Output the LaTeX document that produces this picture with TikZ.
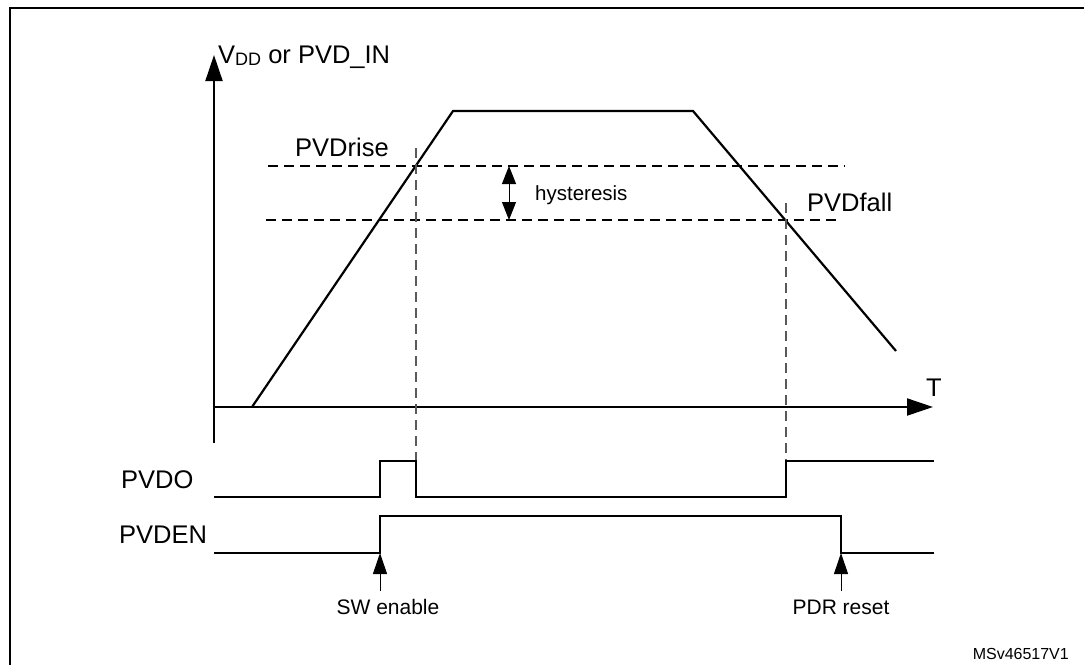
\documentclass[tikz,border=0pt]{standalone}
\usepackage{fontspec}
\setmainfont{Liberation Sans}
\usetikzlibrary{arrows.meta}
\begin{document}
\begin{tikzpicture}[x=1pt,y=-1pt,
  big/.style={inner sep=0pt, font=\fontsize{25.5}{30}\selectfont},
  mid/.style={inner sep=0pt, font=\fontsize{21}{25}\selectfont},
  hyst/.style={inner sep=0pt, font=\fontsize{20.5}{24}\selectfont},
  small/.style={inner sep=0pt, font=\fontsize{16}{19}\selectfont},
  axisline/.style={line width=2pt, -{Triangle[length=26pt,width=17pt]}},
  wave/.style={line width=2.2pt, line join=miter},
  sigline/.style={line width=2.3pt, line join=miter},
  enline/.style={line width=1.7pt, line join=miter},
  hdash/.style={line width=1.2pt, dash pattern=on 10pt off 6pt},
  vdash/.style={line width=1.4pt, dash pattern=on 10pt off 6pt, draw=black!65},
  dblarrow/.style={line width=1pt, {Triangle[length=18pt,width=14pt]}-{Triangle[length=18pt,width=14pt]}},
  evarrow/.style={line width=1pt, -{Triangle[length=21pt,width=14pt]}}
]
\useasboundingbox (0,0) rectangle (1084,664);
% frame
\draw[line width=2.6pt] (10,680) -- (10,8) -- (1100,8);

% axes
\coordinate (ybot) at (214,443);
\coordinate (ytop) at (214,55);
\coordinate (xleft) at (214,407);
\coordinate (xright) at (933,407);
\draw[axisline] (ybot) -- (ytop);
\draw[axisline] (xleft) -- (xright);
\node[big, anchor=base west] (ylab) at (218,63) {V\raisebox{-0.18ex}{\fontsize{18}{20}\selectfont DD} or PVD\_IN};
\node[big, anchor=base west] (tlab) at (926,396) {T};

% waveform
\coordinate (w0) at (252,407);
\coordinate (w1) at (453,111);
\coordinate (w2) at (693,111);
\coordinate (w3) at (896,351);
\draw[wave] (w0) -- (w1) -- (w2) -- (w3);

% thresholds
\coordinate (r0) at (268,166);
\coordinate (r1) at (845,166);
\coordinate (f0) at (266,220);
\coordinate (f1) at (838,220);
\draw[hdash] (r0) -- (r1);
\draw[hdash] (f0) -- (f1);
\node[big, anchor=base west] (rlab) at (295,156) {PVDrise};
\node[big, anchor=base west] (flab) at (807,211) {PVDfall};

% hysteresis
\coordinate (h0) at (509,166);
\coordinate (h1) at (509,220);
\draw[dblarrow] (h0) -- (h1);
\node[hyst, anchor=base west] (hlab) at (535,200) {hysteresis};

% vertical dashed markers
\coordinate (v1t) at (416,148);
\coordinate (v1b) at (416,461);
\coordinate (v2t) at (786,203);
\coordinate (v2b) at (786,461);
\draw[vdash] (v1t) -- (v1b);
\draw[vdash] (v2t) -- (v2b);

% PVDO
\node[big, anchor=base west] (olab) at (121,488) {PVDO};
\coordinate (o0) at (214,497);
\coordinate (o1) at (380,497);
\coordinate (o2) at (380,461);
\coordinate (o3) at (416,461);
\coordinate (o4) at (416,497);
\coordinate (o5) at (786,497);
\coordinate (o6) at (786,461);
\coordinate (o7) at (934,461);
\draw[sigline] (o0) -- (o1) -- (o2) -- (o3) -- (o4) -- (o5) -- (o6) -- (o7);

% PVDEN
\node[big, anchor=base west] (elab) at (119,543) {PVDEN};
\coordinate (e0) at (214,553);
\coordinate (e1) at (380,553);
\coordinate (e2) at (380,516);
\coordinate (e3) at (841,516);
\coordinate (e4) at (841,553);
\coordinate (e5) at (934,553);
\draw[enline] (e0) -- (e1) -- (e2) -- (e3) -- (e4) -- (e5);

% event arrows
\coordinate (s0) at (380,591);
\coordinate (p0) at (841,591);
\draw[evarrow] (s0) -- (e1);
\draw[evarrow] (p0) -- (e4);
\node[mid, anchor=base] (swlab) at (388,614) {SW enable};
\node[mid, anchor=base] (pdrlab) at (841,614) {PDR reset};

% reference id
\node[small, anchor=base east] (ref) at (1069,659) {MSv46517V1};
\end{tikzpicture}
\end{document}
